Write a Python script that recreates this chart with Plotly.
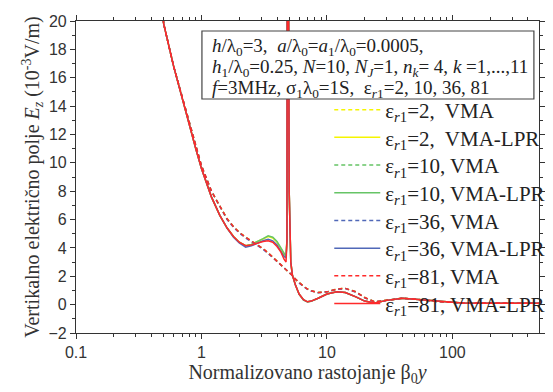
import plotly.graph_objects as go

# ---- data ----
x_vma = [0.4, 0.45, 0.5, 0.6, 0.7, 0.8, 0.9, 1.0, 1.2, 1.4, 1.6, 1.8, 2.0, 2.25, 2.5, 2.8,
         3.1, 3.4, 3.7, 4.0, 4.3, 4.7, 5.0, 5.3, 5.6, 6.0, 6.5, 7.0, 7.5, 8.5, 10,
         12, 14, 17, 20, 24, 30, 40, 55, 80, 120, 200, 300, 500]
y_vma_2 = [28, 23.5, 19.8, 16.8, 14.7, 12.8, 11.1, 9.8, 8.0, 6.9, 6.05, 5.5, 5.1, 4.75, 4.5, 4.25,
           3.95, 3.65, 3.35, 3.05, 2.8, 2.5, 2.3, 2.05, 1.8, 1.55, 1.3, 1.1, 0.98, 0.85, 0.9,
           1.1, 1.15, 0.9, 0.5, 0.2, 0.3, 0.45, 0.35, 0.2, 0.12, 0.1, 0.1, 0.1]
y_vma_10 = [28, 23.5, 19.8, 16.8, 14.7, 12.8, 11.1, 9.8, 8.0, 6.9, 6.05, 5.5, 5.1, 4.75, 4.5, 4.25,
            3.95, 3.65, 3.35, 3.05, 2.8, 2.5, 2.3, 2.05, 1.8, 1.55, 1.3, 1.1, 0.98, 0.85, 0.9,
            1.1, 1.15, 0.9, 0.5, 0.2, 0.3, 0.45, 0.35, 0.2, 0.12, 0.1, 0.1, 0.1]
y_vma_36 = [28, 23.5, 19.8, 16.8, 14.7, 12.8, 11.1, 9.8, 8.0, 6.9, 6.0, 5.45, 5.05, 4.7, 4.45, 4.2,
            3.9, 3.6, 3.3, 3.0, 2.78, 2.48, 2.28, 2.03, 1.78, 1.52, 1.28, 1.08, 0.96, 0.84, 0.9,
            1.08, 1.13, 0.88, 0.48, 0.2, 0.3, 0.45, 0.35, 0.2, 0.12, 0.1, 0.1, 0.1]
y_vma_81 = [28, 23.5, 19.8, 16.8, 14.7, 12.8, 11.1, 9.8, 8.0, 6.9, 6.05, 5.5, 5.1, 4.75, 4.5, 4.25,
            3.95, 3.65, 3.35, 3.05, 2.8, 2.5, 2.3, 2.05, 1.8, 1.55, 1.3, 1.1, 0.98, 0.85, 0.9,
            1.1, 1.15, 0.9, 0.5, 0.2, 0.3, 0.45, 0.35, 0.2, 0.12, 0.1, 0.1, 0.1]

x_lpr = [0.4, 0.45, 0.5, 0.6, 0.7, 0.8, 0.9, 1.0, 1.2, 1.4, 1.6, 1.8, 2.0, 2.25, 2.5, 2.8,
         3.1, 3.4, 3.7, 4.0, 4.3, 4.55, 4.72, 4.8, 4.84, 4.86, 5.0, 5.15, 5.3, 5.6,
         6.0, 6.5, 7.0, 7.5, 8.5, 10, 12, 14, 17, 20, 24, 30, 40, 55, 80, 120, 200, 300, 500]
y_lpr_2 = [28, 23.5, 19.8, 16.8, 14.7, 12.7, 11.0, 9.6, 7.6, 6.3, 5.4, 4.8, 4.4, 4.15, 4.25, 4.45,
           4.6, 4.8, 4.7, 4.4, 3.95, 3.5, 3.45, 4.6, 45, 45, 8, 3.0, 2.1, 1.4,
           0.75, 0.35, 0.2, 0.25, 0.45, 0.75, 0.9, 0.85, 0.55, 0.25, 0.12, 0.3, 0.45, 0.35, 0.2, 0.12, 0.1, 0.1, 0.1]
y_lpr_10 = [28, 23.5, 19.8, 16.8, 14.7, 12.7, 11.0, 9.6, 7.6, 6.3, 5.4, 4.8, 4.4, 4.15, 4.25, 4.45,
            4.65, 4.85, 4.75, 4.45, 4.0, 3.55, 3.4, 4.6, 45, 45, 8, 3.0, 2.1, 1.4,
            0.72, 0.32, 0.18, 0.24, 0.45, 0.75, 0.9, 0.85, 0.55, 0.25, 0.12, 0.3, 0.45, 0.35, 0.2, 0.12, 0.1, 0.1, 0.1]
y_lpr_36 = [28, 23.5, 19.8, 16.8, 14.7, 12.7, 11.0, 9.6, 7.6, 6.3, 5.4, 4.75, 4.35, 4.05, 4.15, 4.35,
            4.5, 4.6, 4.5, 4.2, 3.8, 3.4, 3.3, 4.5, 45, 45, 8, 3.0, 2.1, 1.4,
            0.75, 0.35, 0.2, 0.25, 0.45, 0.75, 0.9, 0.85, 0.55, 0.25, 0.12, 0.3, 0.45, 0.35, 0.2, 0.12, 0.1, 0.1, 0.1]
y_lpr_81 = [28, 23.5, 19.8, 16.8, 14.7, 12.7, 11.0, 9.6, 7.6, 6.3, 5.4, 4.8, 4.4, 4.15, 4.2, 4.35,
            4.45, 4.5, 4.4, 4.1, 3.7, 3.2, 3.0, 4.5, 45, 45, 8, 3.0, 2.1, 1.4,
            0.75, 0.35, 0.2, 0.25, 0.45, 0.75, 0.9, 0.85, 0.55, 0.25, 0.12, 0.3, 0.45, 0.35, 0.2, 0.12, 0.1, 0.1, 0.1]

eps_values = ["2", "10", "36", "81"]
colors = ["#f5f500", "#66c466", "#5068b8", "#ff2a2a"]
vma_series = [y_vma_2, y_vma_10, y_vma_36, y_vma_81]
lpr_series = [y_lpr_2, y_lpr_10, y_lpr_36, y_lpr_81]

x_major_ticks = [0.1, 1, 10, 100]
x_tick_text = ["0.1", "1", "10", "100"]
x_minor_ticks = [m * d for d in (0.1, 1, 10, 100) for m in range(2, 10)]

box_lines = [
    "<i>h</i>/λ<sub>0</sub>=3,  <i>a</i>/λ<sub>0</sub>=<i>a</i><sub>1</sub>/λ<sub>0</sub>=0.0005,",
    "<i>h</i><sub>1</sub>/λ<sub>0</sub>=0.25, <i>N</i>=10, <i>N<sub>J</sub></i>=1, <i>n<sub>k</sub></i>= 4, <i>k</i> =1,...,11",
    "<i>f</i>=3MHz, σ<sub>1</sub>λ<sub>0</sub>=1S,  ε<sub><i>r</i>1</sub>=2, 10, 36, 81",
]

serif = "Liberation Serif"
sans = "Liberation Sans"

fig = go.Figure()
legend_layouts = {}
k = 0
for i, eps in enumerate(eps_values):
    sep = ",  " if eps == "2" else ", "
    for kind, xs, ys, dash in (("VMA", x_vma, vma_series[i], "4px,3px"),
                               ("VMA-LPR", x_lpr, lpr_series[i], "solid")):
        lname = "legend" if k == 0 else f"legend{k+1}"
        fig.add_trace(go.Scatter(
            x=xs, y=ys, mode="lines",
            line=dict(color=colors[i], width=1.5, dash=dash),
            name=f"ε<sub><i>r</i>1</sub>={eps}{sep}{kind}", legend=lname))
        yc = 110 + 27.7 * k           # item centre in pixels
        legend_layouts[lname] = dict(
            x=0.547, y=(333 - yc) / 312, xanchor="left", yanchor="middle",
            bgcolor="rgba(0,0,0,0)", borderwidth=0, itemwidth=46,
            font=dict(family=serif, size=21, color="#222"))
        k += 1

fig.update_layout(
    width=553, height=392,
    margin=dict(l=76, r=3, t=21, b=59),
    paper_bgcolor="white", plot_bgcolor="white",
    showlegend=True,
    xaxis=dict(type="log", range=[-1, 2.69],
               tickvals=x_major_ticks, ticktext=x_tick_text,
               ticks="outside", ticklen=5, tickwidth=1, tickcolor="#333",
               minor=dict(tickvals=x_minor_ticks, ticks="outside", ticklen=3, tickcolor="#333"),
               showline=True, linecolor="#333", linewidth=1.2, mirror="ticks",
               showgrid=False, zeroline=False,
               tickfont=dict(family=sans, size=16, color="#333"),
               title=dict(text="Normalizovano rastojanje β<sub>0</sub><i>y</i>",
                          font=dict(family=serif, size=20, color="#333"), standoff=4)),
    yaxis=dict(range=[-2, 20], tickvals=list(range(-2, 21, 2)),
               ticks="outside", ticklen=5, tickwidth=1, tickcolor="#333",
               minor=dict(dtick=1, ticks="outside", ticklen=3, tickcolor="#333"),
               showline=True, linecolor="#333", linewidth=1.2, mirror="ticks",
               showgrid=False, zeroline=False,
               tickfont=dict(family=sans, size=16, color="#333"),
               title=dict(text="Vertikalno električno polje <i>E<sub>z</sub></i> (10<sup>-3</sup>V/m)",
                          font=dict(family=serif, size=20, color="#333"), standoff=3)),
    **legend_layouts,
)

# parameter box
fig.add_shape(type="rect", xref="paper", yref="paper",
              x0=0.272, x1=0.989, y0=0.75, y1=0.968,
              fillcolor="white", line=dict(color="#444", width=1.2), layer="above")
for line_text, yy in zip(box_lines, [0.918, 0.849, 0.783]):
    fig.add_annotation(text=line_text, xref="paper", yref="paper", x=0.289, y=yy,
                       xanchor="left", yanchor="middle", align="left", showarrow=False,
                       font=dict(family=serif, size=19, color="#222"))

fig.write_html("out.html")
